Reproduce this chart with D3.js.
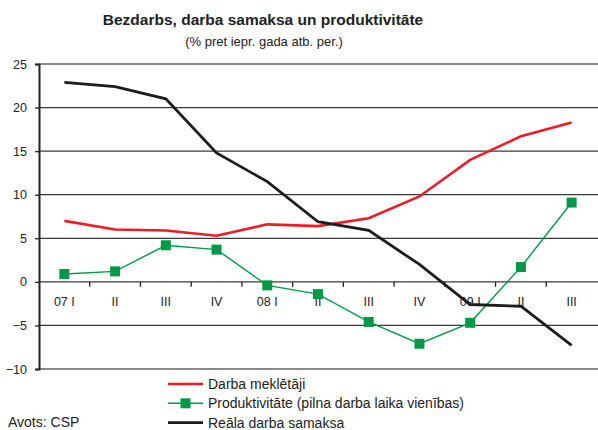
<!DOCTYPE html>
<html>
<head>
<meta charset="utf-8">
<script src="https://cdn.jsdelivr.net/npm/d3@7"></script>
<style>
  body { margin: 0; background: #fff; }
  svg { font-family: "Liberation Sans", Arial, sans-serif; }
</style>
</head>
<body>
<script>
// quarter labels
const quarters = ["07 I", "II", "III", "IV", "08 I", "II", "III", "IV", "09 I", "II", "III"];

// series values
const jobSeekers = [7.0, 6.0, 5.9, 5.3, 6.6, 6.4, 7.3, 9.8, 14.0, 16.7, 18.3];
const productivity = [0.9, 1.2, 4.2, 3.7, -0.4, -1.4, -4.6, -7.1, -4.7, 1.7, 9.1];
const realWages = [22.9, 22.4, 21.0, 14.8, 11.5, 6.9, 5.9, 2.0, -2.6, -2.8, -7.3];

const yTicks = [-10, -5, 0, 5, 10, 15, 20, 25];

const seriesNames = ["Darba meklētāji", "Produktivitāte (pilna darba laika vienības)", "Reāla darba samaksa"];

const red = "#ec1c24", green = "#009a46", black = "#1c1c1c";

const W = 598, H = 430;
const margin = {top: 64, left: 39, right: 1, bottom: 61};

const svg = d3.select("body").append("svg")
  .attr("width", W)
  .attr("height", H);

// scales
const x = d3.scaleBand()
  .domain(quarters.map((d, i) => i))
  .range([margin.left, 597]);

const y = d3.scaleLinear()
  .domain([-10, 25])
  .range([H - margin.bottom, margin.top]);

const cx = (i) => x(i) + x.bandwidth() / 2;

// title
svg.append("text")
  .attr("x", 263).attr("y", 25)
  .attr("text-anchor", "middle")
  .style("font-size", "15.5px")
  .style("font-weight", "bold")
  .attr("fill", "#222")
  .text("Bezdarbs, darba samaksa un produktivitāte");

svg.append("text")
  .attr("x", 264).attr("y", 46)
  .attr("text-anchor", "middle")
  .style("font-size", "13px")
  .attr("fill", "#222")
  .text("(% pret iepr. gada atb. per.)");

// gridlines
svg.selectAll(".grid")
  .data(yTicks)
  .enter()
  .append("line")
  .attr("class", "grid")
  .attr("x1", margin.left)
  .attr("x2", W)
  .attr("y1", d => y(d))
  .attr("y2", d => y(d))
  .attr("stroke", d => (d === 25 || d === -10) ? "#8a8a8a" : "#3a3a3a")
  .attr("stroke-width", d => (d === 25 || d === -10) ? 2 : 1.3);

// y axis
const yAxis = d3.axisLeft(y)
  .tickValues(yTicks)
  .tickSize(4)
  .tickPadding(8);

const yAxisG = svg.append("g")
  .attr("transform", `translate(${margin.left},0)`)
  .call(yAxis);

yAxisG.select(".domain").attr("stroke", "#222").attr("stroke-width", 2);
yAxisG.selectAll(".tick line").attr("stroke", "#222").attr("stroke-width", 1.3);
yAxisG.selectAll("text")
  .style("font-size", "12.5px")
  .style("font-family", "Liberation Sans, Arial, sans-serif")
  .attr("fill", "#222");

// x axis sitting on the zero line
const xAxisG = svg.append("g")
  .attr("transform", `translate(0,${y(0)})`);

xAxisG.selectAll(".xtick")
  .data(quarters.slice(1).map((d, i) => i + 1))
  .enter()
  .append("line")
  .attr("x1", d => x(d))
  .attr("x2", d => x(d))
  .attr("y1", 0)
  .attr("y2", 5)
  .attr("stroke", "#222")
  .attr("stroke-width", 1.3);

xAxisG.selectAll(".xlabel")
  .data(quarters)
  .enter()
  .append("text")
  .attr("x", (d, i) => cx(i))
  .attr("y", 24)
  .attr("text-anchor", "middle")
  .style("font-size", "12.5px")
  .attr("fill", "#222")
  .text(d => d);

// lines
const line = d3.line()
  .x((d, i) => cx(i))
  .y(d => y(d));

svg.append("path")
  .datum(jobSeekers)
  .attr("d", line)
  .attr("fill", "none")
  .attr("stroke", red)
  .attr("stroke-width", 2.6);

svg.append("path")
  .datum(productivity)
  .attr("d", line)
  .attr("fill", "none")
  .attr("stroke", green)
  .attr("stroke-width", 1.4);

svg.selectAll(".marker")
  .data(productivity)
  .enter()
  .append("rect")
  .attr("class", "marker")
  .attr("x", (d, i) => cx(i) - 5)
  .attr("y", d => y(d) - 5)
  .attr("width", 10)
  .attr("height", 10)
  .attr("fill", green);

svg.append("path")
  .datum(realWages)
  .attr("d", line)
  .attr("fill", "none")
  .attr("stroke", black)
  .attr("stroke-width", 2.8);

// legend
const legendColors = [red, green, black];
const legend = svg.selectAll(".legend")
  .data(seriesNames)
  .enter()
  .append("g")
  .attr("class", "legend")
  .attr("transform", (d, i) => `translate(168, ${384 + i * 19.3})`);

legend.append("line")
  .attr("x1", 0).attr("x2", 35)
  .attr("y1", 0).attr("y2", 0)
  .attr("stroke", (d, i) => legendColors[i])
  .attr("stroke-width", (d, i) => i === 1 ? 1.4 : 2.6);

legend.filter((d, i) => i === 1)
  .append("rect")
  .attr("x", 12.5).attr("y", -5)
  .attr("width", 10).attr("height", 10)
  .attr("fill", green);

legend.append("text")
  .attr("x", 40)
  .attr("y", 5)
  .style("font-size", "14px")
  .attr("fill", "#222")
  .text(d => d);

// source note
svg.append("text")
  .attr("x", 8)
  .attr("y", 427)
  .style("font-size", "14px")
  .attr("fill", "#222")
  .text("Avots: CSP");
</script>
</body>
</html>
